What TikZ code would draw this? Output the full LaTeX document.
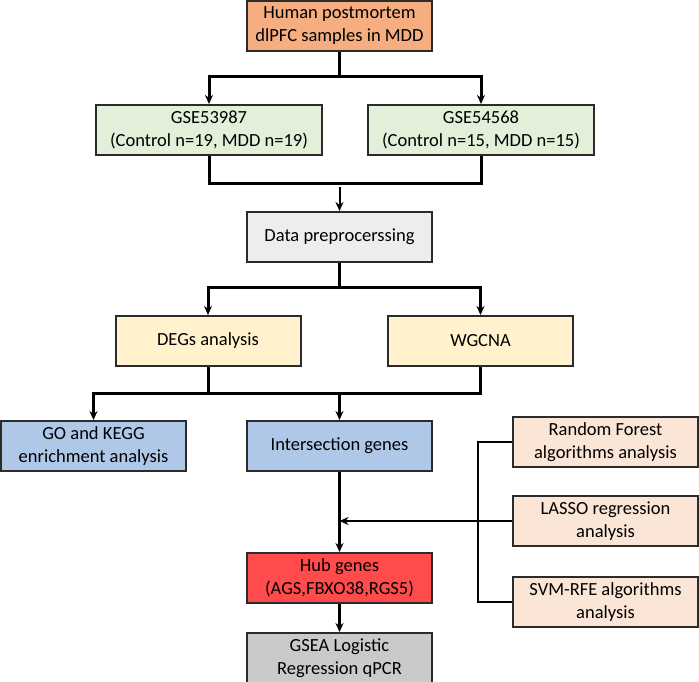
\documentclass[tikz,border=0pt]{standalone}
\usepackage{xcolor}
\usepackage{fontspec}
\setmainfont{Carlito}
\usepackage{tikz}
\usetikzlibrary{shapes,arrows.meta,positioning}

\definecolor{startfill}{HTML}{F6AD80}
\definecolor{gsefill}{HTML}{E2F0D9}
\definecolor{prepfill}{HTML}{EDEDED}
\definecolor{stepfill}{HTML}{FFF2CC}
\definecolor{bluefill}{HTML}{B0C8E8}
\definecolor{hubfill}{HTML}{FF4B4B}
\definecolor{mlfill}{HTML}{FBE5D6}
\definecolor{endfill}{HTML}{CACACA}
\definecolor{edge}{HTML}{2B2B2B}

\begin{document}
\begin{tikzpicture}[
    x=1pt, y=-1pt,
    font=\fontsize{18.5}{23}\selectfont,
    box/.style={rectangle, draw=edge, line width=2pt, align=center, minimum width=185pt, minimum height=50pt, inner sep=0pt},
    widebox/.style={box, minimum width=226pt},
    conn/.style={line width=3pt, line join=miter},
    arrow/.style={conn, -{Stealth[length=9pt, width=8pt]}},
    thinarrow/.style={line width=2pt, -{Stealth[length=9pt, width=8pt]}},
    side/.style={line width=2.5pt}
]
\useasboundingbox (0,0) rectangle (699,681);

% Input
\node[box, fill=startfill] (start) at (339.5,25.5) {Human postmortem\\dlPFC samples in MDD};

% Datasets
\node[widebox, fill=gsefill] (gseA) at (209,130) {GSE53987\\(Control n=19, MDD n=19)};
\node[widebox, fill=gsefill] (gseB) at (481,130) {GSE54568\\(Control n=15, MDD n=15)};

% Preprocessing
\node[box, fill=prepfill] (prep) at (339.5,237) {Data preprocerssing};

% Analyses
\node[box, fill=stepfill] (degs) at (208,341) {DEGs analysis};
\node[box, fill=stepfill] (wgcna) at (480.5,341) {WGCNA};

% Enrichment and intersection
\node[box, fill=bluefill] (gokegg) at (93.5,446) {GO and KEGG\\enrichment analysis};
\node[box, fill=bluefill] (inter) at (339.5,446) {Intersection genes};

% Machine learning
\node[box, fill=mlfill] (rf) at (605.5,442) {Random Forest\\algorithms analysis};
\node[box, fill=mlfill, below=27pt of rf] (lasso) {LASSO regression\\analysis};
\node[box, fill=mlfill, below=29pt of lasso] (svm) {SVM-RFE algorithms\\analysis};

% Results
\node[box, fill=hubfill, below=80pt of inter] (hub) {Hub genes\\(AGS,FBXO38,RGS5)};
\node[box, fill=endfill, below=28pt of hub] (gsea) {GSEA Logistic\\Regression qPCR};

% Split and join points
\coordinate (split1) at (339.5,76);
\coordinate (join1) at (339.5,183);
\coordinate (join1b) at (339.5,187);
\coordinate (split2) at (339.5,287);
\coordinate (join2) at (339.5,393);

% Arrows - main flow
\draw[conn] (start) -- (split1);
\draw[arrow] (split1) -| (gseA);
\draw[arrow] (split1) -| (gseB);
\draw[conn] (gseA) |- (join1) -| (gseB);
\draw[thinarrow] (join1b) -- (prep);
\draw[conn] (prep) -- (split2);
\draw[arrow] (split2) -| (degs);
\draw[arrow] (split2) -| (wgcna);
\draw[conn] (degs) |- (join2) -| (wgcna);
\draw[arrow] (join2) -| (gokegg);
\draw[arrow] (join2) -- (inter);
\draw[arrow] (inter) -- (hub);
\draw[arrow] (hub) -- (gsea);

% Machine learning branch
\draw[side] (rf.west) -- ++(-34,0) |- (svm.west);
\draw[side, -{Stealth[length=9pt, width=8pt]}] (lasso.west) -- (lasso.west -| inter.south);

\end{tikzpicture}
\end{document}
